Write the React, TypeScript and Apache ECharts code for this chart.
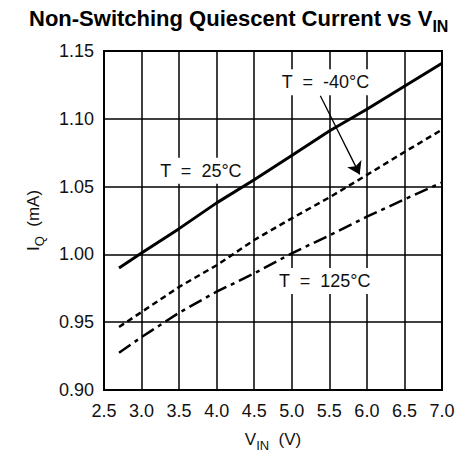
import React, { useEffect, useRef } from "react";
import * as echarts from "echarts";

const xValues = [2.7, 3.0, 3.5, 4.0, 4.5, 5.0, 5.5, 6.0, 6.5, 7.0];
const iq25 = [0.990, 1.001, 1.019, 1.038, 1.055, 1.073, 1.091, 1.107, 1.124, 1.141];
const iqMinus40 = [0.9465, 0.9575, 0.976, 0.992, 1.0106, 1.0266, 1.042, 1.0586, 1.0755, 1.092];
const iq125 = [0.9275, 0.939, 0.957, 0.9725, 0.986, 1.0008, 1.014, 1.0278, 1.0406, 1.053];

const xTicks = { min: 2.5, max: 7.0, interval: 0.5 };
const yTicks = { min: 0.9, max: 1.15, interval: 0.05 };

const label25 = { text: "T  =  25°C", coord: [3.79, 1.0617] };
const labelMinus40 = { text: "T  =  -40°C", coord: [5.45, 1.1269] };
const label125 = { text: "T  =  125°C", coord: [5.44, 0.9804] };
const arrowFrom = [5.38, 1.117];
const arrowTo = [5.904, 1.059];

const FONT = "'Liberation Sans', Arial, Helvetica, sans-serif";

function pairs(ys: number[]) {
  return xValues.map((x, i) => [x, ys[i]]);
}

function annotation(l: { text: string; coord: number[] }) {
  return {
    symbol: "circle",
    symbolSize: 1,
    silent: true,
    itemStyle: { color: "rgba(0,0,0,0)" },
    label: {
      show: true,
      position: "inside",
      formatter: l.text,
      color: "#111",
      fontFamily: FONT,
      fontSize: 18,
      backgroundColor: "#fff",
      padding: [4, 3],
    },
    data: [{ coord: l.coord }],
  };
}

export default function App() {
  const ref = useRef<HTMLDivElement>(null);
  useEffect(() => {
    if (!ref.current) return;
    const chart = echarts.init(ref.current, null, { renderer: "svg" });
    chart.setOption({
      animation: false,
      backgroundColor: "#fff",
      title: {
        text: "{a|Non-Switching Quiescent Current vs V}{b|IN}",
        left: 24,
        top: 2,
        textStyle: {
          rich: {
            a: { fontFamily: FONT, fontWeight: "bold", fontSize: 22, color: "#000", lineHeight: 22 },
            b: { fontFamily: FONT, fontWeight: "bold", fontSize: 16, color: "#000", lineHeight: 16, padding: [16, 0, 0, 0] },
          },
        },
      },
      grid: {
        left: 104,
        right: 16,
        top: 51,
        bottom: 73,
        show: true,
        borderColor: "#000",
        borderWidth: 2,
        backgroundColor: "#fff",
      },
      xAxis: {
        type: "value",
        min: xTicks.min,
        max: xTicks.max,
        interval: xTicks.interval,
        axisLine: { show: false },
        axisTick: { show: false },
        splitLine: { show: true, lineStyle: { color: "#000", width: 1.5 } },
        axisLabel: {
          color: "#111",
          fontFamily: FONT,
          fontSize: 18,
          margin: 12,
          formatter: (v: number) => v.toFixed(1),
        },
        name: "{v|V}{s|IN}{v|  (V)}",
        nameLocation: "middle",
        nameGap: 41,
        nameTextStyle: {
          rich: {
            v: { fontFamily: FONT, fontSize: 17, color: "#111", lineHeight: 17 },
            s: { fontFamily: FONT, fontSize: 13, color: "#111", lineHeight: 13, padding: [12, 0, 0, 0] },
          },
        },
      },
      yAxis: {
        type: "value",
        min: yTicks.min,
        max: yTicks.max,
        interval: yTicks.interval,
        axisLine: { show: false },
        axisTick: { show: false },
        splitLine: { show: true, lineStyle: { color: "#000", width: 1.5 } },
        axisLabel: {
          color: "#111",
          fontFamily: FONT,
          fontSize: 18,
          margin: 10,
          formatter: (v: number) => v.toFixed(2),
        },
        name: "{v|I}{s|Q}{v|  (mA)}",
        nameLocation: "middle",
        nameGap: 62,
        nameTextStyle: {
          rich: {
            v: { fontFamily: FONT, fontSize: 17, color: "#111", lineHeight: 17 },
            s: { fontFamily: FONT, fontSize: 13, color: "#111", lineHeight: 13, padding: [12, 0, 0, 0] },
          },
        },
      },
      series: [
        {
          name: "T = 25°C",
          type: "line",
          data: pairs(iq25),
          showSymbol: false,
          symbol: "none",
          lineStyle: { color: "#000", width: 3, type: "solid" },
          markPoint: annotation(label25),
        },
        {
          name: "T = -40°C",
          type: "line",
          data: pairs(iqMinus40),
          showSymbol: false,
          symbol: "none",
          lineStyle: { color: "#000", width: 2.5, type: [6, 4] },
          markPoint: annotation(labelMinus40),
          markLine: {
            silent: true,
            symbol: ["none", "arrow"],
            symbolSize: 12,
            label: { show: false },
            itemStyle: { color: "#000" },
            lineStyle: { color: "#000", width: 1.3, type: "solid" },
            data: [[{ coord: arrowFrom }, { coord: arrowTo }]],
          },
        },
        {
          name: "T = 125°C",
          type: "line",
          data: pairs(iq125),
          showSymbol: false,
          symbol: "none",
          lineStyle: { color: "#000", width: 2.5, type: [14, 5, 4, 5] },
          markPoint: annotation(label125),
        },
      ],
    });
    return () => chart.dispose();
  }, []);
  return (
    <div
      ref={ref}
      style={{ position: "fixed", left: 0, top: 0, width: 458, height: 463, background: "#fff" }}
    />
  );
}
